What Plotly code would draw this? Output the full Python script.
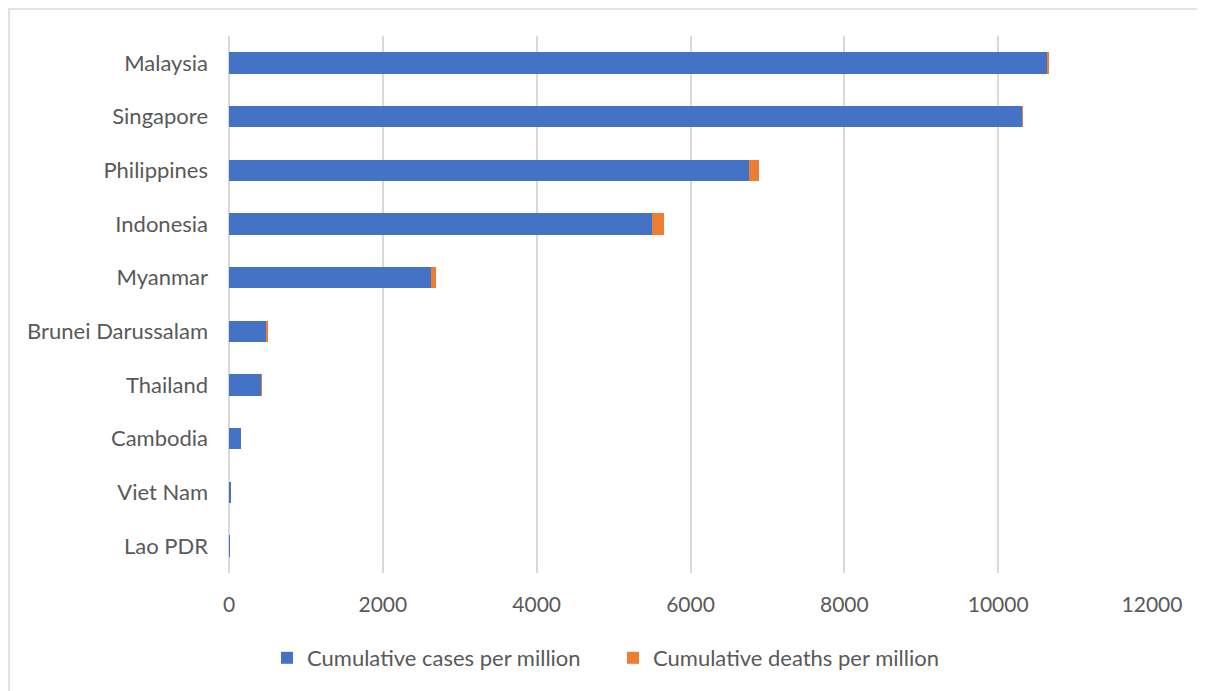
import plotly.graph_objects as go

countries = ["Lao PDR", "Viet Nam", "Cambodia", "Thailand", "Brunei Darussalam",
             "Myanmar", "Indonesia", "Philippines", "Singapore", "Malaysia"]
cases = [2, 28, 155, 420, 490, 2620, 5505, 6765, 10310, 10630]
deaths = [0, 0, 0, 3, 7, 65, 150, 125, 5, 35]
x_ticks = [0, 2000, 4000, 6000, 8000, 10000, 12000]
x_tick_text = ["0", "2000", "4000", "6000", "8000", "10000", "12000"]

FONT = "Lato"
GRAY = "#595959"
OFF = 8  # page body margin

fig = go.Figure()
fig.add_trace(go.Bar(y=countries, x=cases, orientation="h",
                     name="Cumulative cases per million",
                     marker=dict(color="#4472C4", line=dict(width=0))))
fig.add_trace(go.Bar(y=countries, x=deaths, orientation="h",
                     name="Cumulative deaths per million",
                     marker=dict(color="#ED7D31", line=dict(width=0))))

W, H = 1205 - OFF, 691 - OFF
L, R, T, B = 229 - OFF, 53, 36 - OFF, 118
pw = W - L - R
ph = H - T - B
plot_bottom_page = 691 - B

fig.update_layout(
    width=W, height=H,
    barmode="stack", bargap=0.6,
    plot_bgcolor="white", paper_bgcolor="white",
    margin=dict(l=L, r=R, t=T, b=B, pad=0),
    font=dict(family=FONT, size=22, color=GRAY),
    xaxis=dict(range=[0, 12000], tickvals=x_ticks, ticktext=x_tick_text,
               showgrid=True, gridcolor="#d9d9d9", gridwidth=1.5,
               zeroline=True, zerolinecolor="#d9d9d9", zerolinewidth=1.5,
               showline=False, ticks="", ticklabelstandoff=17,
               tickfont=dict(size=21, color=GRAY, family=FONT)),
    yaxis=dict(categoryorder="array", categoryarray=countries,
               showgrid=False, showline=False, ticks="",
               ticklabelstandoff=20,
               tickfont=dict(size=22, color=GRAY, family=FONT)),
    legend=dict(orientation="h", x=(267 - 229) / pw, xanchor="left",
                y=-(658 - plot_bottom_page) / ph, yanchor="middle",
                font=dict(size=22, color=GRAY, family=FONT),
                itemwidth=30, entrywidth=301, entrywidthmode="pixels",
                tracegroupgap=0, traceorder="normal"),
    showlegend=True,
)

fig.add_shape(type="rect", xref="paper", yref="paper",
              x0=(9 - 229) / pw, x1=(1260 - 229) / pw,
              y0=-(740 - plot_bottom_page) / ph, y1=1 + (36 - 9) / ph,
              line=dict(color="#d9d9d9", width=1.5), fillcolor="rgba(0,0,0,0)",
              layer="below")

fig.write_html("out.html")
